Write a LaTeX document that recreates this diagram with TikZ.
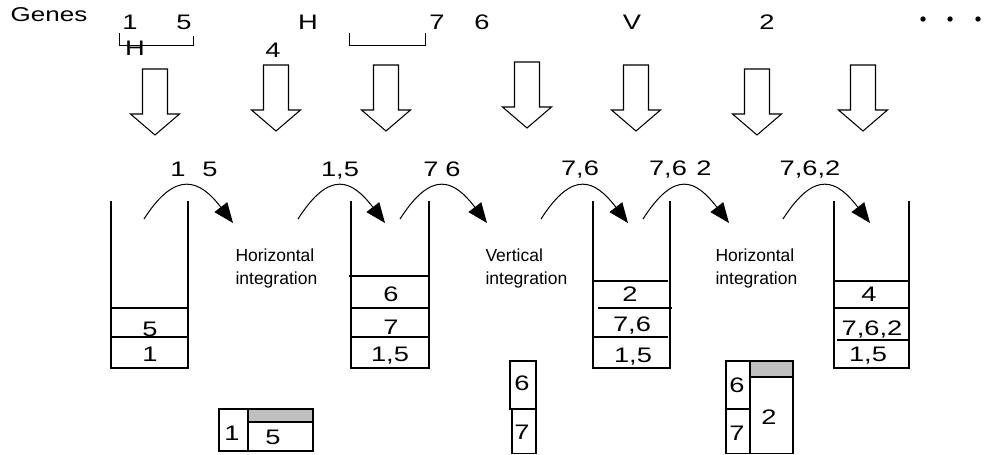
\documentclass[tikz,border=0pt]{standalone}
\usepackage{fontspec}
\setmainfont{Liberation Sans}
\newfontfamily\widefont{Liberation Sans}[FakeStretch=1.3]
\usetikzlibrary{arrows.meta}
\begin{document}
\begin{tikzpicture}[x=1pt,y=-1pt,line width=1.05pt,
  dig/.style={font=\widefont\fontsize{21}{25}\selectfont,inner sep=0pt,text height=15pt,text depth=0pt},
  gene/.style={font=\widefont\fontsize{20}{24}\selectfont,inner sep=0pt,text height=14.3pt,text depth=0pt},
  lbl/.style={font=\fontsize{17.5}{21}\selectfont,inner sep=0pt,anchor=base west},
  flow/.style={-{Triangle[length=20pt,width=16pt]},line width=1pt},
  bracketline/.style={line width=0.9pt},
  graycell/.style={draw,fill=black!25},
  bigarr/.pic={\draw[fill=white] (-12.5,0) -- (12.5,0) -- (12.5,45) -- (24.5,45) -- (0,66) -- (-24.5,45) -- (-12.5,45) -- cycle;}
  ]
\useasboundingbox (0,0) rectangle (986,455);

% top row
\node[gene] (genes) at (49,14) {Genes};
\node[dig] (g1) at (130,22) {1};
\node[dig] (g5) at (184,22) {5};
\node[dig] (gH) at (308,22) {H};
\node[dig] (g7) at (437,22) {7};
\node[dig] (g6) at (482,22) {6};
\node[dig] (gV) at (632,22) {V};
\node[dig] (g2) at (767,22) {2};
\fill (923,19) circle[radius=2.7pt];
\fill (950,19) circle[radius=2.7pt];
\fill (978,19) circle[radius=2.7pt];
\draw[bracketline] (119,33) -- (119,45) -- (193,45) -- (193,36);
\draw[bracketline] (349,33) -- (349,45) -- (425,45) -- (425,33);
\node[dig] (gH2) at (135,48) {H};
\node[dig] (g4) at (273,50) {4};

% big arrows
\pic at (155,69) {bigarr};
\pic at (276,65) {bigarr};
\pic at (386,65) {bigarr};
\pic at (527,62) {bigarr};
\pic at (636,65) {bigarr};
\pic at (757,69) {bigarr};
\pic at (863,65) {bigarr};

% stacks
\draw (111,201) -- (111,368) -- (188,368) -- (188,201);
\draw (111,308) -- (188,308) (111,337) -- (188,337);
\node[dig] (s1b) at (150,329) {5};
\node[dig] (s1a) at (150,354) {1};

\draw (351,201) -- (351,368) -- (429,368) -- (429,201);
\draw (349,276) -- (429,276) (351,308) -- (429,308) (351,337) -- (429,337);
\node[dig] (s2c) at (391,294) {6};
\node[dig] (s2b) at (391,327) {7};
\node[dig] (s2a) at (390,354) {1,5};

\draw (593,201) -- (593,368) -- (670,368) -- (670,201);
\draw (593,281) -- (668,281) (598,308) -- (672,308) (593,337) -- (668,337);
\node[dig] (s3c) at (630,294) {2};
\node[dig] (s3b) at (632,324) {7,6};
\node[dig] (s3a) at (633,355) {1,5};

\draw (834,201) -- (834,368) -- (909,368) -- (909,201);
\draw (834,281) -- (909,281) (834,308) -- (909,308) (837,340) -- (908,340);
\node[dig] (s4c) at (869,294) {4};
\node[dig] (s4b) at (872,328) {7,6,2};
\node[dig] (s4a) at (868,354) {1,5};

% integration labels
\node[lbl] (h1a) at (235,261) {Horizontal};
\node[lbl] (h1b) at (235,284) {integration};
\node[lbl] (v1a) at (485,261) {Vertical};
\node[lbl] (v1b) at (485,284) {integration};
\node[lbl] (h2a) at (715,261) {Horizontal};
\node[lbl] (h2b) at (715,284) {integration};

% curved arrows
\coordinate (a1s) at (144,219); \coordinate (a1e) at (233,223);
\coordinate (a2s) at (298,219); \coordinate (a2e) at (385,223);
\coordinate (a3s) at (400,219); \coordinate (a3e) at (487,223);
\coordinate (a4s) at (541,219); \coordinate (a4e) at (628,223);
\coordinate (a5s) at (643,219); \coordinate (a5e) at (729,223);
\coordinate (a6s) at (783,219); \coordinate (a6e) at (870,223);
\foreach \i in {1,...,6}{
  \draw[flow] (a\i s) .. controls +(32,-50) and +(-33,-43) .. (a\i e);
}
\node[dig] (c1a) at (178,169) {1};
\node[dig] (c1b) at (210,169) {5};
\node[dig] (c2) at (340,169) {1,5};
\node[dig] (c3a) at (431,169) {7};
\node[dig] (c3b) at (453,169) {6};
\node[dig] (c4) at (580,168) {7,6};
\node[dig] (c5a) at (668,168) {7,6};
\node[dig] (c5b) at (704,168) {2};
\node[dig] (c6) at (810,168) {7,6,2};

% bottom boxes
\draw (219,409) rectangle (248,451);
\draw[graycell] (248,409) rectangle (313,422);
\draw (248,422) rectangle (313,451);
\node[dig] (b1) at (232,433) {1};
\node[dig] (b5) at (273,437) {5};

\draw (510,361) rectangle (536,409);
\draw (512,409) rectangle (536,453.5);
\node[dig] (v6) at (522,383) {6};
\node[dig] (v7) at (522,432) {7};

\draw (726,361) rectangle (750,409);
\draw (726,409) rectangle (750,453.5);
\draw[graycell] (750,361) rectangle (793,377);
\draw (750,377) rectangle (793,453.5);
\node[dig] (r6) at (737,385) {6};
\node[dig] (r7) at (737,433) {7};
\node[dig] (r2) at (769,417) {2};
\end{tikzpicture}
\end{document}
